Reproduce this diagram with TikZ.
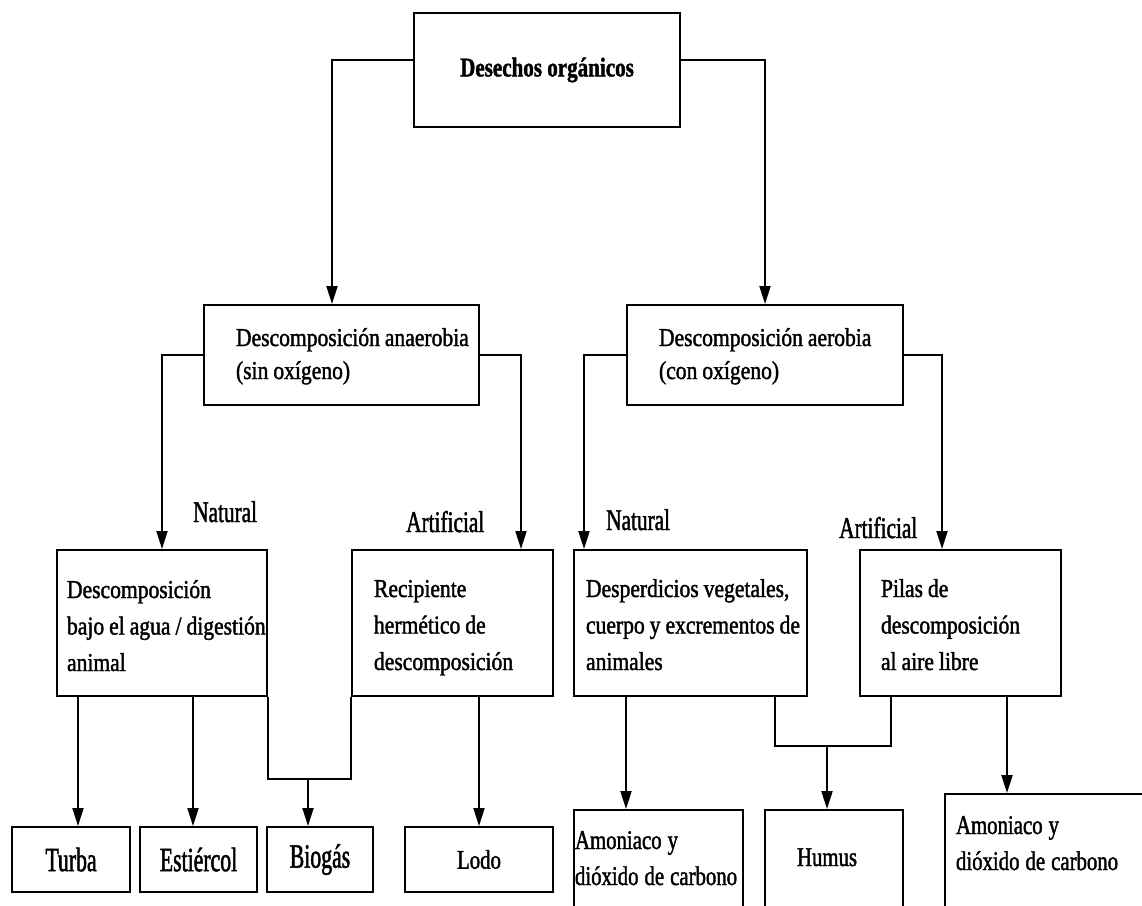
\documentclass[tikz,border=0pt]{standalone}
\usepackage{fontspec}
\setmainfont{Liberation Serif}
\usetikzlibrary{arrows.meta}
% narrow serif faces at several widths
\newfontfamily\dtitlef[FakeStretch=0.78,FakeBold=1.5]{Liberation Serif}
\newfontfamily\dboxf[FakeStretch=0.84,FakeBold=1.5]{Liberation Serif}
\newfontfamily\dlabf[FakeStretch=0.71,FakeBold=1.5]{Liberation Serif}
\newfontfamily\dbigf[FakeStretch=0.64,FakeBold=1.5]{Liberation Serif}
\newfontfamily\dmedf[FakeStretch=0.77,FakeBold=1.5]{Liberation Serif}

\tikzset{
  frame/.style={draw, line width=2pt, rectangle, anchor=north west, inner ysep=0pt},
  midtext/.style={font={\dboxf\fontsize{25.7}{33}\selectfont}, align=left,
    execute at begin node={\spaceskip=5pt\relax}},
  rowtext/.style={font={\dboxf\fontsize{25.7}{36.5}\selectfont}, align=left,
    execute at begin node={\spaceskip=5pt\relax}},
  bigtext/.style={font={\dbigf\fontsize{34}{40}\selectfont}},
  medtext/.style={font={\dmedf\fontsize{27}{36}\selectfont},
    execute at begin node={\spaceskip=6pt\relax}},
  lab/.style={font={\dlabf\fontsize{30}{34}\selectfont}, anchor=base west, inner sep=0pt},
  con/.style={line width=2pt},
  arr/.style={con, -{Triangle[length=18pt,width=11pt]}},
}

\begin{document}
\begin{tikzpicture}[x=1pt, y=-1pt]
\useasboundingbox (0,0) rectangle (1142,905);
\clip (0,0) rectangle (1142,905);

% root
\node[frame, anchor=center, minimum width=266pt, minimum height=114pt,
      font={\dtitlef\bfseries\fontsize{27}{32}\selectfont}] (top) at (547,70) {Desechos orgánicos};

% second level
\node[frame, midtext, text width=211pt, inner xsep=32pt, text height=41pt, text depth=59pt]
  (anaer) at (203,304) {\mbox{Descomposición anaerobia}\\\mbox{(sin oxígeno)}};
\node[frame, midtext, text width=212pt, inner xsep=32pt, text height=41pt, text depth=59pt]
  (aer) at (626,304) {\mbox{Descomposición aerobia}\\\mbox{(con oxígeno)}};

% third level
\node[frame, rowtext, text width=190pt, inner xsep=10pt, text height=48pt, text depth=98pt]
  (dig) at (56,549) {\mbox{Descomposición}\\\mbox{bajo el agua / digestión}\\\mbox{animal}};
\node[frame, rowtext, text width=157pt, inner xsep=22pt, text height=47pt, text depth=99pt]
  (recip) at (351,549) {\mbox{Recipiente}\\\mbox{hermético de}\\\mbox{descomposición}};
\node[frame, rowtext, text width=209pt, inner xsep=12pt, text height=47pt, text depth=99pt]
  (desp) at (573,549) {\mbox{Desperdicios vegetales,}\\\mbox{cuerpo y excrementos de}\\\mbox{animales}};
\node[frame, rowtext, text width=159pt, inner xsep=21pt, text height=47pt, text depth=99pt]
  (pilas) at (859,549) {\mbox{Pilas de}\\\mbox{descomposición}\\\mbox{al aire libre}};

% branch labels
\node[lab] (nat1) at (193,522) {Natural};
\node[lab] (art1) at (406,532) {Artificial};
\node[lab] (nat2) at (606,530) {Natural};
\node[lab] (art2) at (839,538) {Artificial};

% products
\node[frame, bigtext, minimum width=118pt, minimum height=65pt] (turba) at (11,826) {Turba};
\node[frame, bigtext, minimum width=117pt, minimum height=65pt] (estiercol) at (139,826) {Estiércol};
\node[frame, bigtext, minimum width=106pt, minimum height=65pt] (biogas) at (266,826) {Biogás};
\node[frame, medtext, minimum width=148pt, minimum height=65pt] (lodo) at (404,826) {Lodo};
\node[frame, medtext, align=left, text width=167pt, inner xsep=1pt, text height=39pt, text depth=120pt]
  (amon1) at (573,809) {\mbox{Amoniaco y}\\\mbox{dióxido de carbono}};
\node[frame, medtext, align=left, text width=74pt, inner xsep=32pt, text height=56pt, text depth=100pt]
  (humus) at (764,809) {\mbox{Humus}};
\node[frame, medtext, align=left, text width=204pt, inner xsep=11pt, text height=40pt, text depth=120pt]
  (amon2) at (944,793) {\mbox{Amoniaco y}\\\mbox{dióxido de carbono}};

% root to second level
\draw[arr] ([yshift=10pt]top.west) -| ([xshift=-9.5pt]anaer.north);
\draw[arr] ([yshift=10pt]top.east) -| (aer.north);

% second to third level
\draw[arr] (anaer.west) -| (dig.north);
\draw[arr] (anaer.east) -| ([xshift=-33pt]recip.north east);
\draw[arr] (aer.west) -| ([xshift=11pt]desp.north west);
\draw[arr] (aer.east) -| ([xshift=83pt]pilas.north west);

% anaerobic products
\draw[arr] ([xshift=7pt]turba.north |- dig.south) -- ([xshift=7pt]turba.north);
\draw[arr] ([xshift=-5.5pt]estiercol.north |- dig.south) -- ([xshift=-5.5pt]estiercol.north);
\draw[con] (dig.south east) -- ++(0,82) coordinate (bgbar) -| (recip.south west);
\draw[arr] ([xshift=-12pt]biogas.north |- bgbar) -- ([xshift=-12pt]biogas.north);
\draw[arr] (lodo.north |- recip.south) -- (lodo.north);

% aerobic products
\draw[arr] ([xshift=53pt]amon1.north west |- desp.south) -- ([xshift=53pt]amon1.north west);
\draw[con] ([xshift=-33pt]desp.south east) -- ++(0,49) coordinate (hubar) -| ([xshift=32pt]pilas.south west);
\draw[arr] ([xshift=-7pt]humus.north |- hubar) -- ([xshift=-7pt]humus.north);
\draw[arr] ([xshift=63pt]amon2.north west |- pilas.south) -- ([xshift=63pt]amon2.north west);
\end{tikzpicture}
\end{document}
